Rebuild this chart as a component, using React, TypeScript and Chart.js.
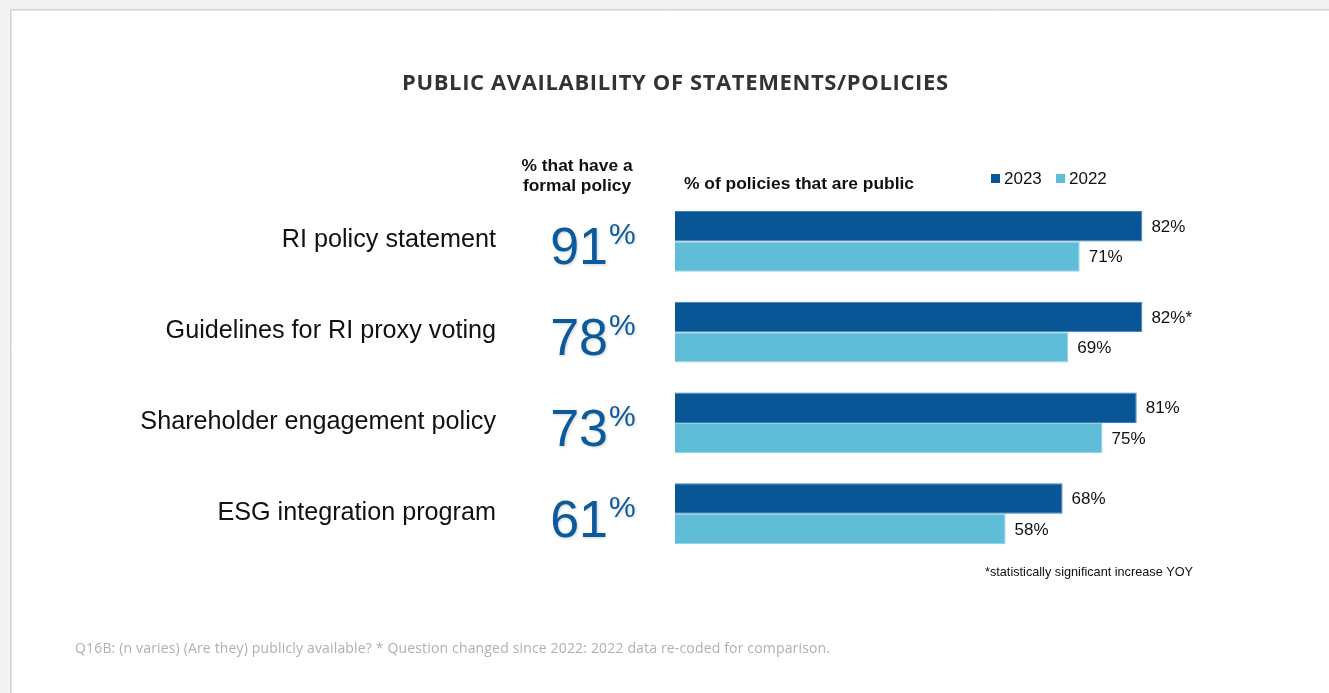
import React, { useEffect, useRef } from "react";
import { Chart, registerables } from "chart.js";

Chart.register(...registerables);

const title = "PUBLIC AVAILABILITY OF STATEMENTS/POLICIES";
const categories = [
  "RI policy statement",
  "Guidelines for RI proxy voting",
  "Shareholder engagement policy",
  "ESG integration program",
];
const formalPolicy = [91, 78, 73, 61];
const series2023 = [82, 82, 81, 68];
const series2022 = [71, 69, 75, 58];
const suffix2023 = ["", "*", "", ""];
const seriesNames = ["2023", "2022"];
const colHeaderLeft = ["% that have a", "formal policy"];
const colHeaderRight = "% of policies that are public";
const footnote = "*statistically significant increase YOY";
const source =
  "Q16B: (n varies) (Are they) publicly available? * Question changed since 2022: 2022 data re-coded for comparison.";

const DARK = "#085695";
const LIGHT = "#60BDD7";

function fitText(ctx: CanvasRenderingContext2D, text: string, x: number, y: number, width: number) {
  (ctx as any).letterSpacing = "0px";
  const w = ctx.measureText(text).width;
  const ls = (width - w) / Math.max(1, text.length - 1);
  (ctx as any).letterSpacing = ls + "px";
  ctx.textAlign = "left";
  ctx.fillText(text, x, y);
  (ctx as any).letterSpacing = "0px";
}

const decorPlugin = {
  id: "decor",
  beforeDraw(chart: any) {
    const ctx = chart.ctx as CanvasRenderingContext2D;
    const W = chart.width;
    const H = chart.height;
    ctx.save();
    ctx.fillStyle = "#f3f3f3";
    ctx.fillRect(0, 0, W, H);
    ctx.fillStyle = "#ffffff";
    ctx.fillRect(10, 9, W - 10, H - 9);
    ctx.strokeStyle = "#d2d2d2";
    ctx.lineWidth = 1;
    ctx.beginPath();
    ctx.moveTo(10.5, H);
    ctx.lineTo(10.5, 9.5);
    ctx.lineTo(W, 9.5);
    ctx.stroke();
    ctx.strokeStyle = "#e8e8e8";
    ctx.beginPath();
    ctx.moveTo(11.5, H);
    ctx.lineTo(11.5, 10.5);
    ctx.lineTo(W, 10.5);
    ctx.stroke();
    ctx.restore();
  },
  afterDatasetsDraw(chart: any) {
    const ctx = chart.ctx as CanvasRenderingContext2D;
    const yScale = chart.scales.y;
    ctx.save();
    ctx.textBaseline = "middle";

    // Title
    ctx.fillStyle = "#333333";
    ctx.font = "bold 22px 'Open Sans'";
    fitText(ctx, title, 402, 84, 546);

    // Column headers
    ctx.fillStyle = "#111111";
    ctx.font = "bold 17.4px 'Liberation Sans', Arial";
    ctx.textAlign = "center";
    ctx.fillText(colHeaderLeft[0], 577, 166);
    ctx.fillText(colHeaderLeft[1], 577, 186);
    ctx.textAlign = "left";
    ctx.fillText(colHeaderRight, 684, 184);

    // Legend
    const legendItems = [
      { x: 991, color: chart.data.datasets[0].backgroundColor, label: seriesNames[0] },
      { x: 1056, color: chart.data.datasets[1].backgroundColor, label: seriesNames[1] },
    ];
    ctx.font = "17px 'Liberation Sans', Arial";
    legendItems.forEach((it) => {
      ctx.fillStyle = it.color;
      ctx.fillRect(it.x, 174, 9, 9);
      ctx.fillStyle = "#111111";
      ctx.textAlign = "left";
      ctx.fillText(it.label, it.x + 13, 179);
    });

    // Category labels and big percentages
    categories.forEach((cat, i) => {
      const cy = yScale.getPixelForValue(i);
      ctx.fillStyle = "#111111";
      ctx.font = "25.2px 'Liberation Sans', Arial";
      ctx.textAlign = "right";
      ctx.textBaseline = "middle";
      ctx.fillText(cat, 496, cy - 1);

      ctx.save();
      ctx.shadowColor = "rgba(0,0,0,0.18)";
      ctx.shadowBlur = 3;
      ctx.shadowOffsetX = 1;
      ctx.shadowOffsetY = 1;
      ctx.fillStyle = "#0B5A9E";
      ctx.textBaseline = "alphabetic";
      ctx.font = "52px 'Liberation Sans', Arial";
      const num = String(formalPolicy[i]);
      ctx.textAlign = "right";
      ctx.fillText(num, 608, cy + 23);
      ctx.font = "30px 'Liberation Sans', Arial";
      ctx.textAlign = "left";
      ctx.fillText("%", 609, cy + 3);
      ctx.restore();
    });

    // Value labels
    ctx.font = "17px 'Liberation Sans', Arial";
    ctx.fillStyle = "#111111";
    ctx.textAlign = "left";
    ctx.textBaseline = "middle";
    chart.data.datasets.forEach((ds: any, di: number) => {
      const meta = chart.getDatasetMeta(di);
      meta.data.forEach((bar: any, i: number) => {
        const v = ds.data[i];
        const suffix = di === 0 ? suffix2023[i] : "";
        ctx.fillText(v + "%" + suffix, bar.x + 9, bar.y + 1);
      });
    });

    // Footnote
    ctx.font = "12.7px 'Liberation Sans', Arial";
    ctx.fillStyle = "#111111";
    ctx.textAlign = "left";
    ctx.fillText(footnote, 985, 572);

    // Source
    ctx.fillStyle = "#b0b0b0";
    ctx.font = "14px 'Open Sans'";
    fitText(ctx, source, 75, 649, 755);

    ctx.restore();
  },
};

export default function App() {
  const ref = useRef<HTMLCanvasElement | null>(null);
  useEffect(() => {
    if (!ref.current) return;
    const chart = new Chart(ref.current, {
      type: "bar",
      data: {
        labels: categories,
        datasets: [
          {
            label: seriesNames[0],
            data: series2023,
            backgroundColor: DARK,
            borderColor: "#3f7fb5",
            borderWidth: 1,
            categoryPercentage: 0.67,
            barPercentage: 1,
          },
          {
            label: seriesNames[1],
            data: series2022,
            backgroundColor: LIGHT,
            borderColor: "#8fd2e4",
            borderWidth: 1,
            categoryPercentage: 0.67,
            barPercentage: 1,
          },
        ],
      },
      options: {
        indexAxis: "y",
        responsive: false,
        animation: false,
        devicePixelRatio: 1,
        layout: { padding: { left: 675, right: 84, top: 196, bottom: 134 } },
        scales: {
          x: { display: false, min: 0, max: 100 },
          y: { display: false },
        },
        plugins: {
          legend: { display: false },
          tooltip: { enabled: false },
          title: { display: false },
        },
      },
      plugins: [decorPlugin],
    });
    return () => chart.destroy();
  }, []);
  return (
    <canvas
      ref={ref}
      width={1329}
      height={693}
      style={{ position: "absolute", left: 0, top: 0, width: 1329, height: 693 }}
    />
  );
}
